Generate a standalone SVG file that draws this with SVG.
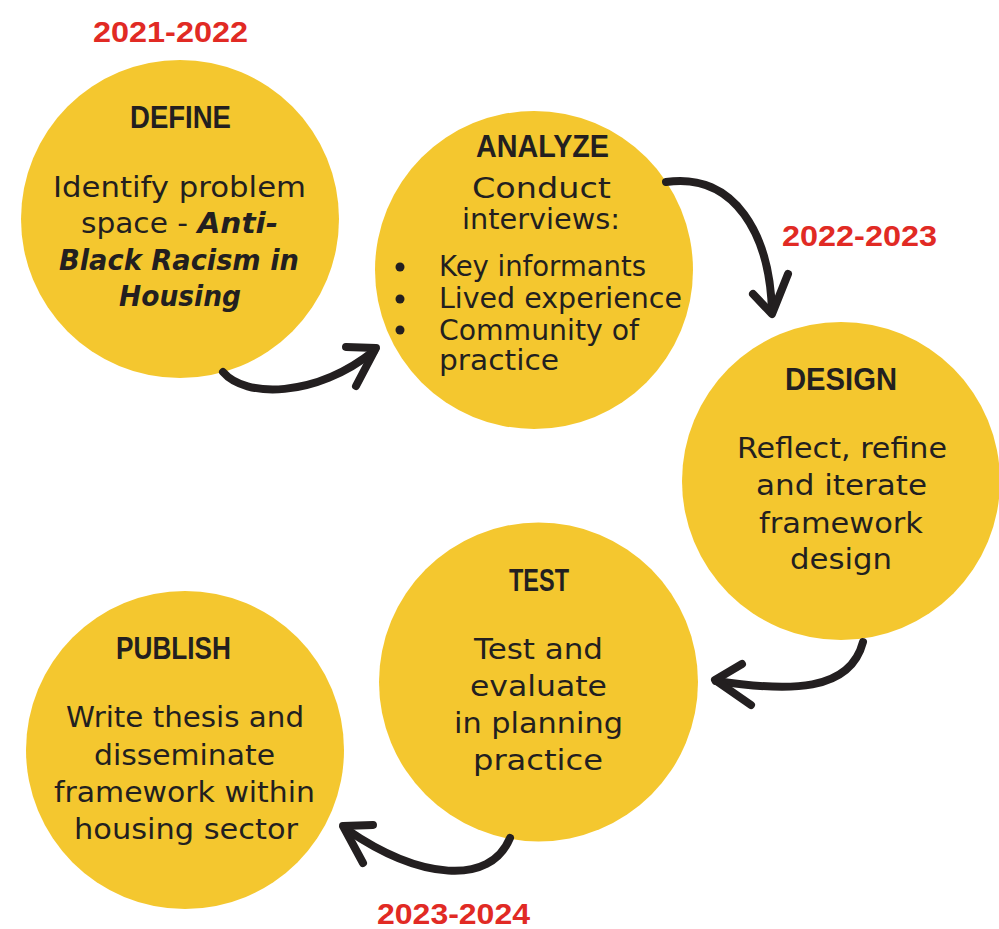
<svg xmlns="http://www.w3.org/2000/svg" width="999" height="929" viewBox="0 0 999 929">
  <style>
    .disc { fill: #F4C72F; }
    .head { font-family: "Liberation Sans", Arial, sans-serif; font-weight: bold; font-size: 31px; fill: #231F20; text-anchor: middle; }
    .body { font-family: "DejaVu Sans", "Liberation Sans", sans-serif; font-size: 29px; fill: #231F20; text-anchor: middle; }
    .left { text-anchor: start; font-size: 28px; }
    .bi { font-weight: bold; font-style: italic; }
    .year { font-family: "Liberation Sans", Arial, sans-serif; font-weight: bold; font-size: 30px; fill: #E12A24; text-anchor: middle; }
    .arrow { fill: none; stroke: #231F20; stroke-width: 8; stroke-linecap: round; stroke-linejoin: round; }
    .bullet { fill: #231F20; }
  </style>

  <g id="years">
    <text class="year" x="170.5" y="42" textLength="155" lengthAdjust="spacingAndGlyphs">2021-2022</text>
    <text class="year" x="859.5" y="246" textLength="155" lengthAdjust="spacingAndGlyphs">2022-2023</text>
    <text class="year" x="453.5" y="924" textLength="153" lengthAdjust="spacingAndGlyphs">2023-2024</text>
  </g>

  <g id="define">
    <circle class="disc" cx="180" cy="219" r="159"/>
    <text class="head" x="180.5" y="128" textLength="101" lengthAdjust="spacingAndGlyphs">DEFINE</text>
    <text class="body" x="179.5" y="197" textLength="253" lengthAdjust="spacingAndGlyphs">Identify problem</text>
    <text class="body" x="179.5" y="233" textLength="197" lengthAdjust="spacingAndGlyphs">space - <tspan class="bi">Anti-</tspan></text>
    <text class="body bi" x="179" y="270" textLength="240" lengthAdjust="spacingAndGlyphs">Black Racism in</text>
    <text class="body bi" x="180" y="306" textLength="122" lengthAdjust="spacingAndGlyphs">Housing</text>
  </g>

  <g id="analyze">
    <circle class="disc" cx="534" cy="270" r="159"/>
    <text class="head" x="542.5" y="157" textLength="133" lengthAdjust="spacingAndGlyphs">ANALYZE</text>
    <text class="body" x="541.5" y="198" font-size="31" textLength="139" lengthAdjust="spacingAndGlyphs">Conduct</text>
    <text class="body" x="541" y="229" font-size="31" textLength="158" lengthAdjust="spacingAndGlyphs">interviews:</text>
    <circle class="bullet" cx="400" cy="267" r="4.5"/>
    <circle class="bullet" cx="400" cy="299" r="4.5"/>
    <circle class="bullet" cx="400" cy="330" r="4.5"/>
    <text class="body left" x="439" y="276" textLength="207" lengthAdjust="spacingAndGlyphs">Key informants</text>
    <text class="body left" x="439" y="308" textLength="243" lengthAdjust="spacingAndGlyphs">Lived experience</text>
    <text class="body left" x="439" y="340" textLength="200" lengthAdjust="spacingAndGlyphs">Community of</text>
    <text class="body left" x="439" y="370" textLength="120" lengthAdjust="spacingAndGlyphs">practice</text>
  </g>

  <g id="design">
    <circle class="disc" cx="841" cy="481" r="159"/>
    <text class="head" x="841" y="390" textLength="112" lengthAdjust="spacingAndGlyphs">DESIGN</text>
    <text class="body" x="842" y="458" textLength="210" lengthAdjust="spacingAndGlyphs">Reflect, refine</text>
    <text class="body" x="841.5" y="495" textLength="171" lengthAdjust="spacingAndGlyphs">and iterate</text>
    <text class="body" x="841" y="533" textLength="164" lengthAdjust="spacingAndGlyphs">framework</text>
    <text class="body" x="841" y="569" textLength="102" lengthAdjust="spacingAndGlyphs">design</text>
  </g>

  <g id="test">
    <circle class="disc" cx="538.5" cy="682" r="159.5"/>
    <text class="head" x="539" y="591" textLength="60" lengthAdjust="spacingAndGlyphs">TEST</text>
    <text class="body" x="538.5" y="659" textLength="129" lengthAdjust="spacingAndGlyphs">Test and</text>
    <text class="body" x="538.5" y="696" textLength="137" lengthAdjust="spacingAndGlyphs">evaluate</text>
    <text class="body" x="538.5" y="733" textLength="169" lengthAdjust="spacingAndGlyphs">in planning</text>
    <text class="body" x="538" y="770" textLength="130" lengthAdjust="spacingAndGlyphs">practice</text>
  </g>

  <g id="publish">
    <circle class="disc" cx="185" cy="750" r="159"/>
    <text class="head" x="173.5" y="659" textLength="115" lengthAdjust="spacingAndGlyphs">PUBLISH</text>
    <text class="body" x="185" y="727" textLength="238" lengthAdjust="spacingAndGlyphs">Write thesis and</text>
    <text class="body" x="184.5" y="765" textLength="181" lengthAdjust="spacingAndGlyphs">disseminate</text>
    <text class="body" x="184.5" y="802" textLength="261" lengthAdjust="spacingAndGlyphs">framework within</text>
    <text class="body" x="186" y="839" textLength="224" lengthAdjust="spacingAndGlyphs">housing sector</text>
  </g>

  <g id="connectors">
    <path class="arrow" d="M223,372 C245,398 315,398 374,351"/>
    <path class="arrow" d="M346,347 L376,348 L356,386"/>
    <path class="arrow" d="M666,182 C735,172 770,235 772,312"/>
    <path class="arrow" d="M753,294 L772,314 L788,274"/>
    <path class="arrow" d="M863,642 C850,692 790,692 716,681"/>
    <path class="arrow" d="M742,664 L715,680 L751,705"/>
    <path class="arrow" d="M510,838 C490,886 420,880 346,829"/>
    <path class="arrow" d="M373,825 L343,826 L363,863"/>
  </g>
</svg>
